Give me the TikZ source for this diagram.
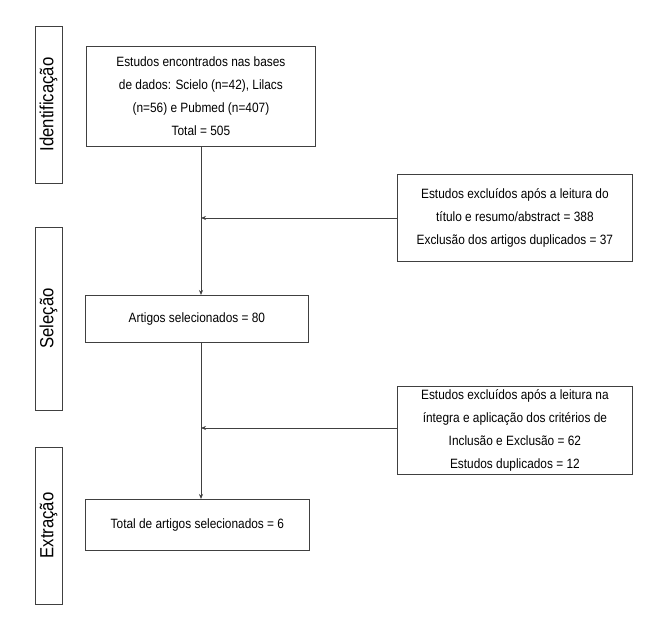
\documentclass[tikz,border=0pt]{standalone}
\usepackage{fontspec}
\setmainfont{Liberation Sans}[FakeStretch=0.88]
\usetikzlibrary{arrows.meta}
\begin{document}
\begin{tikzpicture}[x=1pt,y=-1pt,
  bx/.style={draw=black!75,line width=0.8pt},
  txt/.style={align=center,font=\fontsize{13.5}{23}\selectfont},
  lab/.style={font=\fontsize{19}{19}\selectfont,rotate=90},
  ar/.style={draw=black!75,line width=0.7pt,-{Stealth[length=5pt,width=4pt]}},
  ln/.style={draw=black!75,line width=0.7pt}]
\useasboundingbox (0,0) rectangle (656,617);
% stage boxes
\draw[bx] (35,26) rectangle (62,183); \node[lab] (lid) at (48.5,104.5) {Identificação};
\draw[bx] (35,227) rectangle (62,410); \node[lab] (lse) at (48.5,318.5) {Seleção};
\draw[bx] (35,447) rectangle (62,604); \node[lab] (lex) at (48.5,525.5) {Extração};
% main boxes
\node[bx,txt,minimum width=229pt,minimum height=100pt,anchor=north west] (b1) at (86,46)
 {Estudos encontrados nas bases\\de dados: Scielo (n=42), Lilacs\\(n=56) e Pubmed (n=407)\\Total = 505};
\node[bx,txt,minimum width=223pt,minimum height=47pt,anchor=north west] (b2) at (85,295) {Artigos selecionados = 80};
\node[bx,txt,minimum width=224pt,minimum height=51pt,anchor=north west] (b5) at (85,499) {Total de artigos selecionados = 6};
\node[bx,txt,minimum width=235pt,minimum height=87pt,anchor=north west] (b3) at (397,174)
 {Estudos excluídos após a leitura do\\título e resumo/abstract = 388\\Exclusão dos artigos duplicados = 37};
\node[bx,txt,minimum width=235pt,minimum height=82pt,anchor=north west] (b4) at (397,386)
 {Estudos excluídos após a leitura na\\íntegra e aplicação dos critérios de\\Inclusão e Exclusão = 62\\Estudos duplicados = 12};
% connectors
\coordinate (m1) at (201,218);
\coordinate (m2) at (201,428);
\draw[ar] (b1.south -| m1) -- (b2.north -| m1);
\draw[ar] (b2.south -| m1) -- (b5.north -| m1);
\draw[ar] (b3.west |- m1) -- (m1);
\draw[ar] (b4.west |- m2) -- (m2);
\end{tikzpicture}
\end{document}
